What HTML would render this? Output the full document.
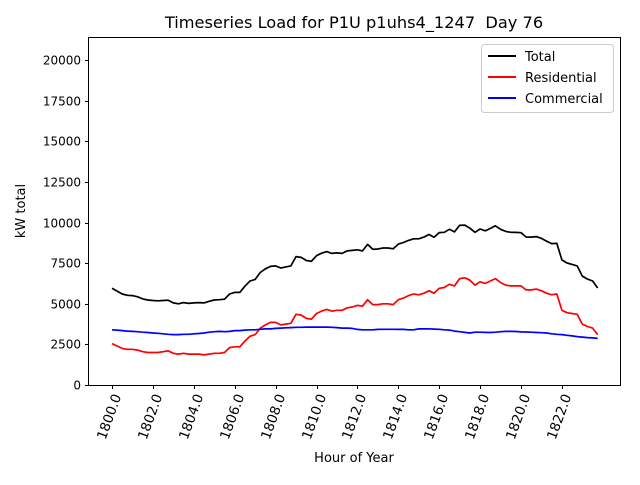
<!DOCTYPE html>
<html><head><meta charset="utf-8"><style>
body{margin:0;background:#fff}
text{font-family:"DejaVu Sans","Liberation Sans",sans-serif;fill:#000}
</style></head><body>
<svg id="chart" width="640" height="480" xmlns="http://www.w3.org/2000/svg">
<rect width="640" height="480" fill="#fff"/>
<text x="354" y="28" font-size="16.2" text-anchor="middle">Timeseries Load for P1U p1uhs4_1247&#160; Day 76</text>
<text transform="translate(25,211) rotate(-90)" font-size="13" text-anchor="middle">kW total</text>
<text x="354" y="462" font-size="13" text-anchor="middle">Hour of Year</text>
<g id="plot"></g>
<rect x="88.5" y="37.5" width="532" height="348" fill="none" stroke="#000" stroke-width="1"/>
<g>
<rect x="481.5" y="44.5" width="132" height="68" rx="3" fill="#fff" fill-opacity="0.8" stroke="#ccc"/>
<line x1="488" y1="56" x2="516" y2="56" stroke="#000" stroke-width="2"/>
<text x="525" y="61" font-size="13">Total</text>
<line x1="488" y1="77" x2="516" y2="77" stroke="red" stroke-width="2"/>
<text x="525" y="82" font-size="13">Residential</text>
<line x1="488" y1="98" x2="516" y2="98" stroke="blue" stroke-width="2"/>
<text x="525" y="103" font-size="13">Commercial</text>
</g>
</svg>
<script>
const startHour = 1800;
const stepHour = 0.25;
const xTicks = [1800,1802,1804,1806,1808,1810,1812,1814,1816,1818,1820,1822];
const yTicks = [0,2500,5000,7500,10000,12500,15000,17500,20000];
const residential = [2550,2400,2250,2200,2200,2150,2050,2000,
2000,2000,2050,2100,1950,1900,1950,1900,
1900,1900,1850,1900,1950,1950,2000,2300,
2350,2350,2700,3000,3100,3500,3700,3850,
3850,3700,3750,3800,4350,4300,4100,4050,
4400,4550,4650,4550,4600,4600,4750,4800,
4900,4850,5250,4950,4950,5000,5000,4950,
5250,5350,5500,5600,5550,5650,5800,5650,
5950,6000,6200,6100,6550,6600,6450,6150,
6350,6250,6400,6550,6300,6150,6100,6100,
6100,5850,5850,5900,5800,5650,5550,5600,
4600,4450,4400,4350,3750,3600,3500,3100];
const commercial = [3400,3380,3350,3320,3300,3280,3250,3230,
3200,3180,3150,3120,3100,3100,3120,3120,
3150,3170,3200,3250,3280,3300,3280,3300,
3350,3350,3380,3400,3400,3430,3450,3450,
3480,3500,3520,3530,3550,3550,3560,3560,
3560,3560,3560,3550,3530,3500,3500,3480,
3420,3400,3400,3400,3420,3430,3430,3430,
3420,3420,3400,3400,3450,3450,3460,3440,
3430,3400,3380,3320,3280,3240,3200,3250,
3250,3240,3230,3250,3280,3300,3300,3290,
3270,3260,3250,3230,3220,3200,3150,3120,
3100,3060,3020,2980,2950,2920,2900,2870];
const total = [5950,5780,5600,5520,5500,5430,5300,5230,
5200,5180,5200,5220,5050,5000,5070,5020,
5050,5070,5050,5150,5230,5250,5280,5600,
5700,5700,6080,6400,6500,6930,7150,7300,
7330,7200,7270,7330,7900,7850,7660,7610,
7960,8110,8210,8100,8130,8100,8250,8280,
8320,8250,8650,8350,8370,8430,8430,8380,
8670,8770,8900,9000,9000,9100,9260,9090,
9380,9400,9580,9420,9830,9840,9650,9400,
9600,9490,9630,9800,9580,9450,9400,9390,
9370,9110,9100,9130,9020,8850,8700,8720,
7700,7510,7420,7330,6700,6520,6400,5970];

const NS="http://www.w3.org/2000/svg";
const g=document.getElementById('plot');
function xs(h){return 112+(h-1800)*20.45;}
function ys(v){return 385-v*0.01625;}
function mk(tag,attrs){const e=document.createElementNS(NS,tag);for(const k in attrs)e.setAttribute(k,attrs[k]);g.appendChild(e);return e;}
yTicks.forEach(v=>{
  const y=Math.round(ys(v))+0.5;
  const t=mk('line',{x1:85,x2:88.5,y1:y,y2:y,stroke:'#000'});
  
  
  const l=mk('text',{x:81,y:y+4,'font-size':12,'text-anchor':'end'});
  
  
  l.textContent=v;
});
xTicks.forEach(h=>{
  const x=Math.round(xs(h))+0.5;
  const t=mk('line',{x1:x,x2:x,y1:385.5,y2:389,stroke:'#000'});
  
  
  const l=mk('text',{transform:`translate(${x+9},396) rotate(-70)`,'font-size':13.5,'text-anchor':'end'});
  
  
  l.textContent=h.toFixed(1);
});
function line(arr,color,name){
  const pts=arr.map((v,i)=>xs(startHour+i*stepHour).toFixed(1)+','+ys(v).toFixed(1)).join(' ');
  const p=mk('polyline',{points:pts,fill:'none',stroke:color,'stroke-width':1.7,'stroke-linejoin':'round'});
  
  
}
line(total,'#000','total-line');
line(residential,'red','residential-line');
line(commercial,'blue','commercial-line');
</script>
</body></html>
